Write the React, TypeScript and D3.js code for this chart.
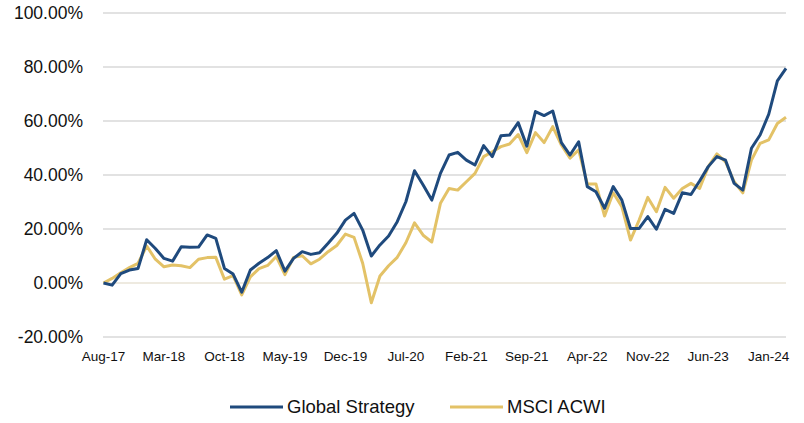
import * as d3 from 'd3';
import { useEffect, useRef } from 'react';

const width = 804;
const height = 423;

// monthly cumulative return (%), Aug-17 .. Mar-24
const startMonth = new Date(2017, 7, 1);
const months = d3.timeMonth.range(startMonth, new Date(2024, 3, 1));
const fmtMonth = d3.timeFormat('%b-%y');

const globalStrategy = [
  0, -0.8, 3.5, 4.8, 5.4, 16, 12.8, 9.1, 8.1, 13.4, 13.2, 13.3, 17.8, 16.5, 5.4, 3.3, -3.4, 4.8, 7.3, 9.4,
  12, 4.4, 9.1, 11.6, 10.6, 11.2, 14.7, 18.4, 23.3, 25.8, 19.6, 10, 14.1, 17.4, 22.7, 30.1, 41.6, 36.3, 30.7, 40.6,
  47.4, 48.4, 45.5, 43.7, 50.9, 46.8, 54.5, 54.8, 59.4, 50.7, 63.5, 62, 63.7, 52, 47.4, 52.3, 35.7, 33.8, 27.7, 35.7,
  30.7, 20.2, 20.2, 24.6, 19.9, 27.3, 25.8, 33.4, 32.8, 37.8, 43.1, 46.8, 45.5, 36.9, 34.4, 49.9, 54.8, 62.5, 74.9, 79.5,
];

const msciAcwi = [
  0, 1.7, 3.8, 5.7, 7.3, 13.7, 8.8, 6.0, 6.7, 6.4, 5.7, 8.8, 9.4, 9.5, 1.4, 2.7, -4.4, 2.3, 5.3, 6.5,
  9.8, 3.1, 9.5, 10.1, 7.1, 8.8, 11.6, 13.9, 18.1, 16.9, 7.3, -7.3, 2.6, 6.4, 9.5, 14.9, 22.3, 17.7, 15.2, 29.5,
  35, 34.4, 37.5, 40.6, 46.8, 48.6, 50.5, 51.5, 55, 48.3, 55.7, 52, 57.9, 51.1, 46.2, 49.3, 36.7, 36.7, 24.8, 33.4,
  28.3, 15.9, 23.3, 31.7, 26.4, 35.4, 31.4, 35, 36.9, 35, 43.1, 47.8, 44.9, 37.5, 33.4, 45.5, 51.7, 53, 59.1, 61.4,
];

const yTicks = [-20, 0, 20, 40, 60, 80, 100];
const xTickLabels = [
  'Aug-17', 'Mar-18', 'Oct-18', 'May-19', 'Dec-19', 'Jul-20',
  'Feb-21', 'Sep-21', 'Apr-22', 'Nov-22', 'Jun-23', 'Jan-24',
];

const series = [
  { name: 'Global Strategy', values: globalStrategy, color: '#1f4a7d' },
  { name: 'MSCI ACWI', values: msciAcwi, color: '#e3c267' },
];

const font = "'Liberation Sans', Arial, sans-serif";

const App = () => {
  const svgRef = useRef<SVGSVGElement>(null);

  useEffect(() => {
    const svg = d3.select(svgRef.current);
    svg.selectAll('*').remove();

    const labels = months.map((m) => fmtMonth(m));
    const x = d3
      .scalePoint<string>()
      .domain(labels)
      .range([103.5, 786]);
    const y = d3.scaleLinear().domain([-20, 100]).range([337, 13]);

    // gridlines
    svg
      .append('g')
      .selectAll('line')
      .data(yTicks)
      .join('line')
      .attr('x1', 103)
      .attr('x2', 786)
      .attr('y1', (d) => y(d))
      .attr('y2', (d) => y(d))
      .attr('stroke', (d) => (d === 0 ? '#e8e3d6' : '#d9d9d9'))
      .attr('stroke-width', 1.5);

    // y labels
    svg
      .append('g')
      .selectAll('text')
      .data(yTicks)
      .join('text')
      .attr('x', 83)
      .attr('y', (d) => y(d))
      .attr('dy', '0.35em')
      .attr('text-anchor', 'end')
      .style('font-family', font)
      .style('font-size', '17.5px')
      .style('fill', '#111')
      .text((d) => `${d.toFixed(2)}%`);

    // x labels
    svg
      .append('g')
      .selectAll('text')
      .data(xTickLabels)
      .join('text')
      .attr('x', (d) => x(d) as number)
      .attr('y', 356)
      .attr('dy', '0.35em')
      .attr('text-anchor', 'middle')
      .style('font-family', font)
      .style('font-size', '13.5px')
      .style('fill', '#111')
      .text((d) => d);

    const line = d3
      .line<number>()
      .x((_, i) => x(labels[i]) as number)
      .y((d) => y(d));

    // draw gold first so blue stays on top
    [...series].reverse().forEach((s) => {
      svg
        .append('path')
        .datum(s.values)
        .attr('d', line)
        .attr('fill', 'none')
        .attr('stroke', s.color)
        .attr('stroke-width', 3)
        .attr('stroke-linejoin', 'round');
    });

    // legend
    const legendX = [230, 450];
    const legend = svg
      .append('g')
      .selectAll('g')
      .data(series)
      .join('g')
      .attr('transform', (_, i) => `translate(${legendX[i]},407)`);
    legend
      .append('line')
      .attr('x1', 0)
      .attr('x2', 53)
      .attr('stroke', (d) => d.color)
      .attr('stroke-width', 3);
    legend
      .append('text')
      .attr('x', 57)
      .attr('dy', '0.35em')
      .style('font-family', font)
      .style('font-size', '18.5px')
      .style('fill', '#111')
      .text((d) => d.name);
  }, []);

  return (
    <svg
      ref={svgRef}
      width={width}
      height={height}
      style={{ position: 'absolute', left: 0, top: 0, background: '#fff' }}
    />
  );
};

export default App;
